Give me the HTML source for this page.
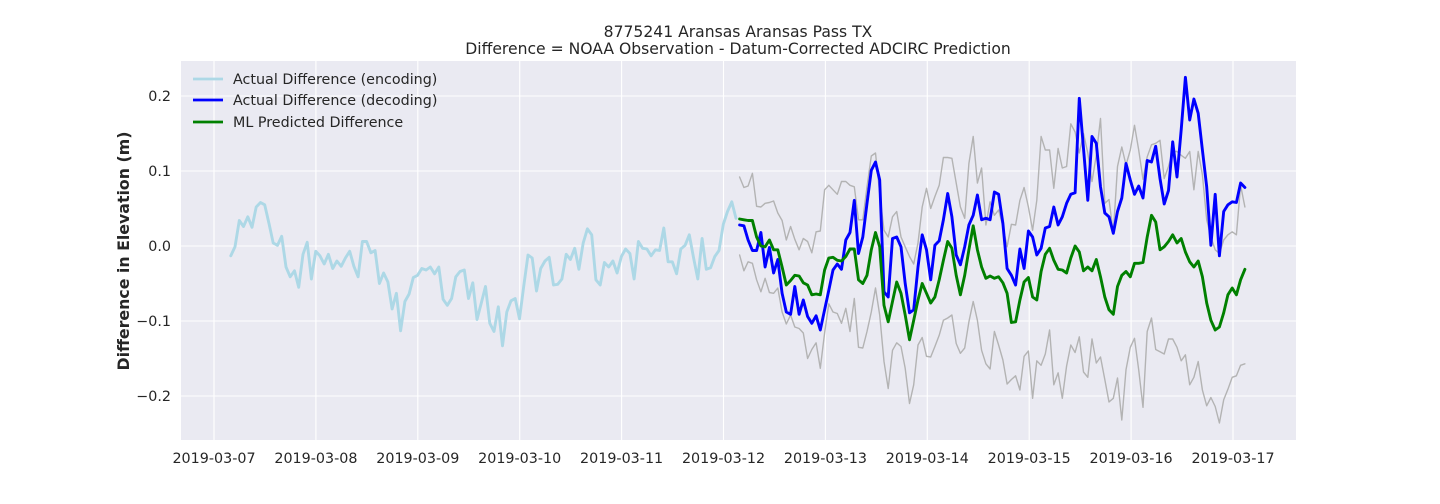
<!DOCTYPE html>
<html><head><meta charset="utf-8"><style>
html,body{margin:0;padding:0;background:#fff;}
svg{display:block;font-family:"DejaVu Sans","Liberation Sans",sans-serif;}
</style></head><body>
<svg id="chart" width="1440" height="504" viewBox="0 0 1440 504" xmlns="http://www.w3.org/2000/svg">
<text x="738" y="37" text-anchor="middle" font-size="15.6" fill="#262626">8775241 Aransas Aransas Pass TX</text>
<text x="738" y="54" text-anchor="middle" font-size="15.6" fill="#262626">Difference = NOAA Observation - Datum-Corrected ADCIRC Prediction</text>
<rect x="181" y="61" width="1115" height="379" fill="#eaeaf2"/>
<g id="grid"></g><g id="series"></g><g id="ticks"></g>
<text transform="translate(129,251) rotate(-90)" text-anchor="middle" font-size="15.8" font-weight="bold" fill="#262626">Difference in Elevation (m)</text>
<g>
<line x1="193" y1="79" x2="223" y2="79" stroke="#add8e6" stroke-width="2.8"/>
<text x="233" y="84" font-size="14.3" fill="#262626">Actual Difference (encoding)</text>
<line x1="193" y1="100" x2="223" y2="100" stroke="#0000ff" stroke-width="2.8"/>
<text x="233" y="105" font-size="14.3" fill="#262626">Actual Difference (decoding)</text>
<line x1="193" y1="122" x2="223" y2="122" stroke="#008000" stroke-width="2.8"/>
<text x="233" y="127" font-size="14.3" fill="#262626">ML Predicted Difference</text>
</g>
</svg>
<script>
const xTickLabels = ["2019-03-07","2019-03-08","2019-03-09","2019-03-10","2019-03-11","2019-03-12","2019-03-13","2019-03-14","2019-03-15","2019-03-16","2019-03-17"];
const yTickValues = [0.2,0.1,0.0,-0.1,-0.2];
const yTickLabels = ["0.2","0.1","0.0","\u22120.1","\u22120.2"];
const encStartHours = 3.95;
const decStartHours = 123.8;
const stepHours = 1.0;
const encoding = [-0.013,-0.001,0.034,0.026,0.039,0.025,0.052,0.058,0.055,0.030,0.004,0.001,0.013,-0.028,-0.041,-0.033,-0.055,-0.011,0.005,-0.044,-0.007,-0.013,-0.024,-0.011,-0.030,-0.020,-0.027,-0.016,-0.007,-0.027,-0.041,0.006,0.006,-0.009,-0.006,-0.050,-0.036,-0.048,-0.084,-0.063,-0.113,-0.074,-0.064,-0.042,-0.039,-0.030,-0.032,-0.028,-0.037,-0.028,-0.071,-0.079,-0.070,-0.041,-0.034,-0.032,-0.070,-0.049,-0.098,-0.076,-0.054,-0.103,-0.114,-0.081,-0.133,-0.088,-0.073,-0.070,-0.097,-0.054,-0.012,-0.016,-0.060,-0.030,-0.020,-0.015,-0.052,-0.051,-0.044,-0.011,-0.018,-0.003,-0.031,0.004,0.023,0.015,-0.045,-0.052,-0.022,-0.028,-0.020,-0.036,-0.014,-0.004,-0.010,-0.044,0.006,-0.003,-0.004,-0.013,-0.005,-0.006,0.024,-0.021,-0.021,-0.037,-0.004,0.001,0.015,-0.016,-0.044,0.010,-0.031,-0.029,-0.014,-0.006,0.029,0.046,0.059,0.037];
const decoding = [0.028,0.027,0.008,-0.006,-0.006,0.018,-0.028,-0.002,-0.036,-0.018,-0.063,-0.088,-0.091,-0.054,-0.091,-0.072,-0.094,-0.103,-0.093,-0.112,-0.085,-0.059,-0.032,-0.024,-0.031,0.008,0.018,0.061,-0.010,0.012,0.057,
0.101,0.112,0.088,-0.061,-0.068,0.010,0.012,-0.001,-0.050,-0.089,-0.085,-0.028,0.015,-0.005,-0.045,0.001,0.007,0.035,0.070,0.039,-0.012,-0.025,-0.001,0.028,0.041,0.068,0.035,0.037,0.035,0.072,
0.069,0.030,-0.030,-0.039,-0.052,-0.004,-0.030,0.020,0.012,-0.012,-0.003,0.024,0.026,0.052,0.028,0.039,0.057,0.069,0.071,0.197,0.130,0.061,0.146,0.137,0.079,0.044,0.039,0.017,0.046,0.064,0.110,
0.088,0.069,0.080,0.064,0.114,0.112,0.133,0.090,0.056,0.074,0.139,0.092,0.155,0.225,0.168,0.196,0.177,0.128,0.079,0.001,0.069,-0.013,0.046,0.055,0.059,0.058,0.084,0.078];
const predicted = [0.036,0.035,0.034,0.034,0.012,0.000,-0.001,0.008,-0.005,-0.005,-0.028,-0.052,-0.046,-0.039,-0.040,-0.049,-0.052,-0.065,-0.064,-0.065,-0.032,-0.016,-0.015,-0.019,-0.020,-0.014,-0.004,-0.004,-0.045,-0.050,-0.039,
-0.005,0.018,-0.001,-0.079,-0.101,-0.074,-0.048,-0.063,-0.092,-0.125,-0.099,-0.072,-0.050,-0.063,-0.076,-0.068,-0.045,-0.019,0.006,-0.003,-0.039,-0.065,-0.039,-0.005,0.027,-0.005,-0.028,-0.043,-0.040,-0.043,
-0.041,-0.049,-0.063,-0.102,-0.101,-0.072,-0.048,-0.042,-0.068,-0.072,-0.034,-0.011,-0.003,-0.019,-0.031,-0.032,-0.036,-0.016,0.000,-0.008,-0.033,-0.028,-0.033,-0.018,-0.041,-0.068,-0.085,-0.091,-0.054,-0.039,-0.034,
-0.041,-0.023,-0.023,-0.022,0.012,0.041,0.032,-0.005,-0.001,0.006,0.015,0.004,0.010,-0.008,-0.021,-0.028,-0.020,-0.041,-0.076,-0.099,-0.112,-0.108,-0.089,-0.065,-0.056,-0.065,-0.045,-0.031];
const upperBand = [0.092,0.078,0.080,0.097,0.053,0.052,0.057,0.058,0.060,0.044,0.034,0.008,0.026,0.009,-0.005,0.010,0.006,-0.009,0.019,0.020,0.075,0.081,0.075,0.069,0.086,0.086,0.081,0.079,0.035,0.035,
0.079,0.120,0.124,0.070,0.021,0.012,0.039,0.046,0.012,-0.001,-0.014,-0.024,0.004,0.052,0.077,0.050,0.066,0.081,0.118,0.118,0.117,0.084,0.052,0.037,0.110,0.146,0.084,0.104,0.028,0.059,0.041,0.048,0.026,-0.001,0.029,0.028,0.061,0.078,0.052,0.021,0.061,0.146,0.128,
0.128,0.077,0.130,0.104,0.106,0.163,0.152,0.124,0.150,0.124,0.086,0.121,0.170,0.057,0.062,0.017,0.106,0.132,0.108,0.128,0.161,0.128,0.089,0.119,0.135,0.137,0.141,0.090,0.106,0.126,0.126,0.121,0.117,0.126,0.075,0.126,0.095,0.035,0.012,-0.005,-0.010,0.008,0.015,0.019,0.015,0.081,0.052];
const lowerBand = [-0.012,-0.033,-0.021,-0.023,-0.045,-0.061,-0.043,-0.062,-0.063,-0.056,-0.088,-0.104,-0.092,-0.108,-0.110,-0.116,-0.150,-0.138,-0.129,-0.163,-0.116,-0.077,-0.088,-0.090,-0.103,-0.083,-0.114,-0.070,-0.135,-0.136,-0.114,-0.088,-0.056,-0.092,-0.154,-0.190,-0.139,-0.129,-0.134,-0.163,-0.210,-0.185,-0.132,-0.122,-0.147,-0.148,-0.134,-0.119,-0.099,-0.096,-0.092,-0.130,-0.143,-0.136,-0.101,-0.074,-0.099,-0.139,-0.157,-0.164,-0.114,
-0.132,-0.152,-0.184,-0.178,-0.173,-0.192,-0.147,-0.140,-0.203,-0.153,-0.159,-0.144,-0.112,-0.185,-0.169,-0.203,-0.160,-0.132,-0.142,-0.121,-0.168,-0.175,-0.124,-0.156,-0.148,-0.178,-0.208,-0.203,-0.176,-0.232,-0.165,-0.135,-0.123,-0.165,-0.215,-0.114,-0.096,-0.138,-0.141,-0.144,-0.124,-0.124,-0.135,-0.153,-0.145,-0.185,-0.175,-0.154,-0.192,-0.213,-0.202,-0.214,-0.236,-0.205,-0.191,-0.175,-0.173,-0.159,-0.157];

const NS = "http://www.w3.org/2000/svg";
const PL = 181, PR = 1296, PT = 61, PB = 440;
function xScale(days){ return 214 + days * 101.9; }
function yScale(v){ return 246 - v * 750; }
function mk(tag, attrs, parent){ const e = document.createElementNS(NS, tag); for (const k in attrs) e.setAttribute(k, attrs[k]); parent.appendChild(e); return e; }
const grid = document.getElementById('grid'), ticks = document.getElementById('ticks'), series = document.getElementById('series');

xTickLabels.forEach((lab, i) => {
  const x = xScale(i);
  const gl = mk('line', {x1:x, x2:x, y1:PT, y2:PB, stroke:'#ffffff', 'stroke-width':1.1}, grid);
  
  
  const t = mk('text', {x:x, y:463, 'text-anchor':'middle', 'font-size':14.3, fill:'#262626'}, ticks);
  t.textContent = lab;
  
  
});
yTickValues.forEach((v, i) => {
  const y = yScale(v);
  const gl = mk('line', {x1:PL, x2:PR, y1:y, y2:y, stroke:'#ffffff', 'stroke-width':1.1}, grid);
  
  
  const t = mk('text', {x:171, y:y+5, 'text-anchor':'end', 'font-size':14.3, fill:'#262626'}, ticks);
  t.textContent = yTickLabels[i];
  
  
});

function drawLine(vals, startH, color, width, name){
  const pts = vals.map((v, i) => xScale((startH + i * stepHours) / 24).toFixed(1) + ',' + yScale(v).toFixed(1)).join(' ');
  const p = mk('polyline', {points:pts, fill:'none', stroke:color, 'stroke-width':width, 'stroke-linejoin':'round', 'stroke-linecap':'round'}, series);
  
  
}
drawLine(upperBand, decStartHours, '#b3b3b3', 1.4, 'upper-band-line');
drawLine(lowerBand, decStartHours, '#b3b3b3', 1.4, 'lower-band-line');
drawLine(encoding, encStartHours, '#add8e6', 2.9, 'encoding-line');
drawLine(decoding, decStartHours, '#0000ff', 2.9, 'decoding-line');
drawLine(predicted, decStartHours, '#008000', 2.9, 'predicted-line');
</script>
</body></html>
